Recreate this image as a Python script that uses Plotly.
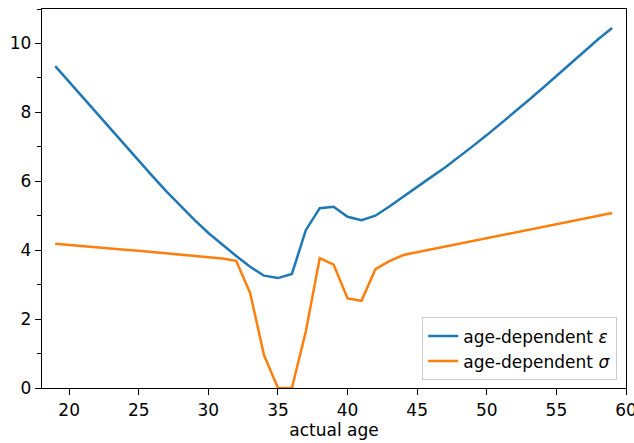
import plotly.graph_objects as go

ages = list(range(19, 60))
epsilon = [9.34, 8.88, 8.43, 7.98, 7.52, 7.06, 6.60, 6.14, 5.70, 5.28,
           4.88, 4.50, 4.16, 3.83, 3.52, 3.26, 3.19, 3.31, 4.58, 5.22,
           5.26, 4.97, 4.87, 5.00, 5.27, 5.56, 5.84, 6.12, 6.40, 6.70,
           7.02, 7.34, 7.67, 8.00, 8.35, 8.70, 9.06, 9.42, 9.78, 10.12,
           10.45]
sigma = [4.19, 4.15, 4.12, 4.08, 4.05, 4.01, 3.98, 3.94, 3.90, 3.87,
         3.83, 3.80, 3.76, 3.69, 2.76, 0.95, 0.00, 0.00, 1.64, 3.77,
         3.58, 2.60, 2.53, 3.45, 3.68, 3.86, 3.94, 4.02, 4.10, 4.19,
         4.27, 4.35, 4.43, 4.51, 4.59, 4.68, 4.76, 4.84, 4.92, 5.00,
         5.08]
x_ticks = [20, 25, 30, 35, 40, 45, 50, 55, 60]
y_ticks = [0, 2, 4, 6, 8, 10]

FONT = "DejaVu Sans"
FS = 17

fig = go.Figure()
fig.add_trace(go.Scatter(x=ages, y=epsilon, mode="lines",
                         line=dict(color="#1f77b4", width=2.5),
                         name="age-dependent <i>ε</i>"))
fig.add_trace(go.Scatter(x=ages, y=sigma, mode="lines",
                         line=dict(color="#ff7f0e", width=2.5),
                         name="age-dependent <i>σ</i>"))

axis_common = dict(showline=True, linecolor="black", linewidth=1.3, mirror=True,
                   ticks="outside", ticklen=6, tickwidth=1.3, tickcolor="black",
                   showgrid=False, zeroline=False, automargin=False,
                   ticklabeloverflow="allow",
                   tickfont=dict(family=FONT, size=FS, color="black"))

fig.update_xaxes(range=[18.05, 60.0001], tickvals=x_ticks, title=dict(
    text="actual age", font=dict(family=FONT, size=FS, color="black"), standoff=4),
    **axis_common)
fig.update_yaxes(range=[0, 11], tickvals=y_ticks,
                 minor=dict(ticks="outside", ticklen=3.5, dtick=1, tick0=0,
                            tickcolor="black", tickwidth=1, showgrid=False),
                 **axis_common)

fig.update_layout(
    width=634, height=443,
    margin=dict(l=42, r=8, t=9, b=55),
    plot_bgcolor="white", paper_bgcolor="white",
    font=dict(family=FONT, size=FS, color="black"),
    legend=dict(x=0.985, y=0.02, xanchor="right", yanchor="bottom",
                bgcolor="rgba(255,255,255,0.8)", bordercolor="#cccccc",
                borderwidth=1, font=dict(family=FONT, size=FS, color="black")),
)

fig.write_html("out.html", config={"displayModeBar": False},
               post_script="document.body.style.margin='0';document.body.style.overflow='hidden';")
